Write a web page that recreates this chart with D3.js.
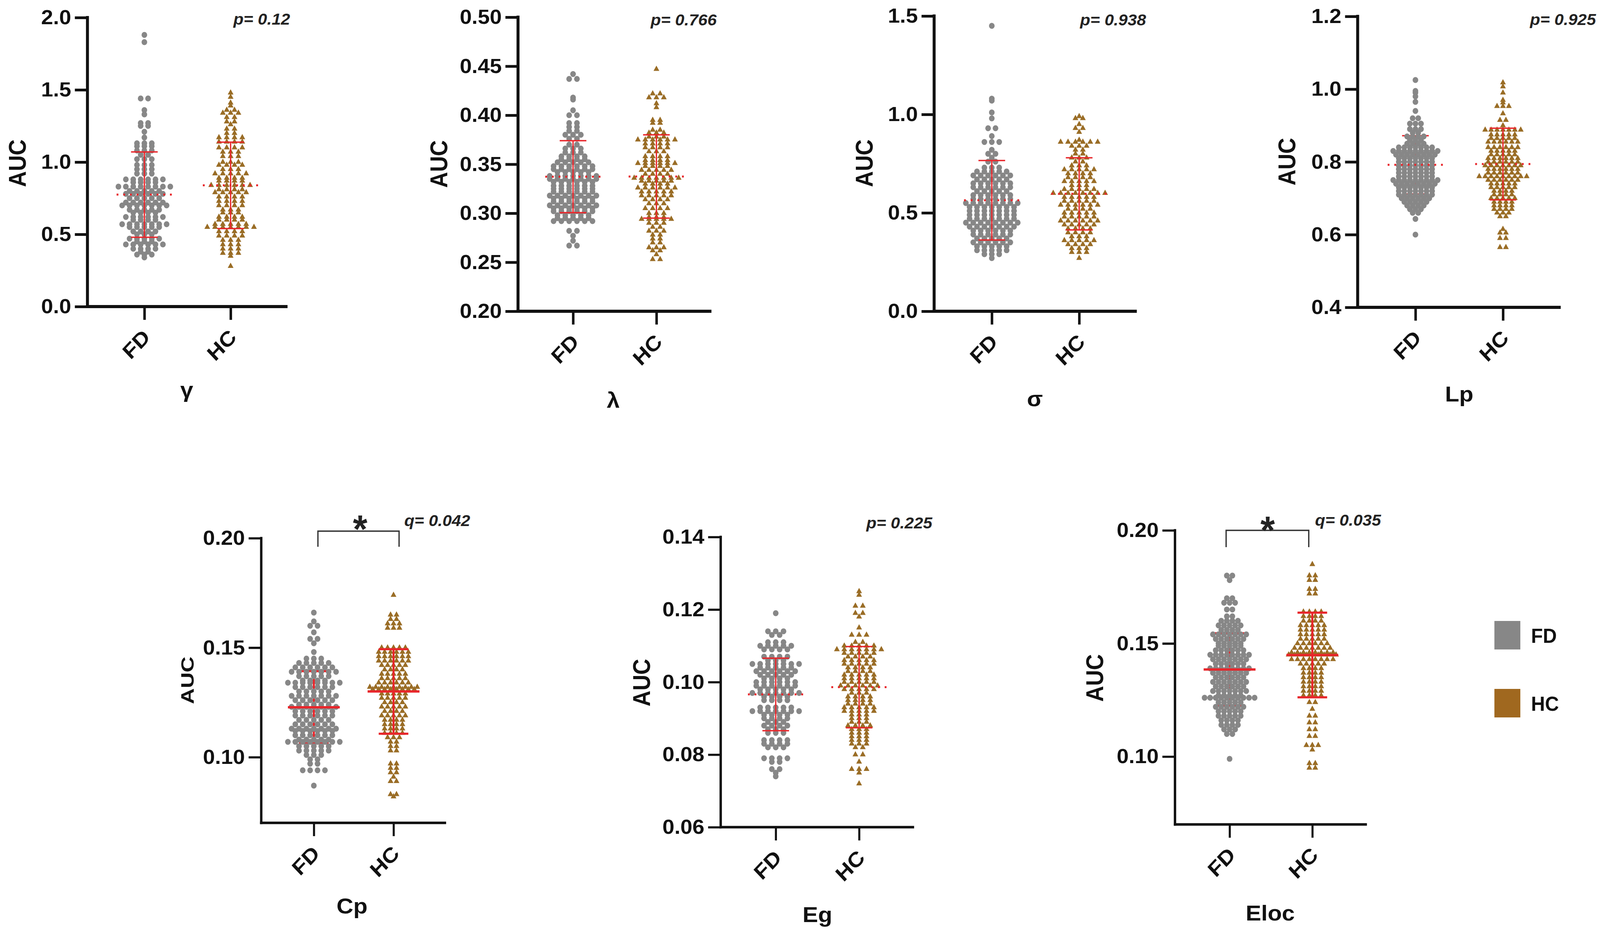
<!DOCTYPE html>
<html><head><meta charset="utf-8">
<script src="https://cdn.jsdelivr.net/npm/d3@7"></script>
<style>html,body{margin:0;padding:0;background:#fff;width:100%;height:100%;overflow:hidden;}svg{display:block;width:100vw;height:100vh;}text{font-family:"Liberation Sans",Arial,Helvetica,sans-serif;}</style>
</head><body><svg id="c" viewBox="0 0 4318 2389" preserveAspectRatio="none"></svg>
<script>
// ---------------- DATA ----------------
const groups = ["FD", "HC"];
const panelNames = ["γ", "λ", "σ", "Lp", "Cp", "Eg", "Eloc"];
const statLabels = ["p= 0.12", "p= 0.766", "p= 0.938", "p= 0.925", "q= 0.042", "p= 0.225", "q= 0.035"];
const significant = [false, false, false, false, true, false, true];
const yDomains = [[0, 2], [0.2, 0.5], [0, 1.5], [0.4, 1.2], [0.07, 0.2], [0.06, 0.14], [0.07, 0.2]];
const yTicks = [[0, 0.5, 1.0, 1.5, 2.0], [0.20, 0.25, 0.30, 0.35, 0.40, 0.45, 0.50], [0, 0.5, 1.0, 1.5], [0.4, 0.6, 0.8, 1.0, 1.2], [0.10, 0.15, 0.20], [0.06, 0.08, 0.10, 0.12, 0.14], [0.10, 0.15, 0.20]];
const tickFormats = [".1f", ".2f", ".1f", ".1f", ".2f", ".2f", ".2f"];

const meanFD = [0.775, 0.3373, 0.564, 0.792, 0.1228, 0.0966, 0.1385];
const sdFD   = [0.2955, 0.0367, 0.202, 0.080, 0.0165, 0.0100, 0.0160];
const meanHC = [0.839, 0.3375, 0.5965, 0.794, 0.1300, 0.0986, 0.1449];
const sdHC   = [0.299, 0.0425, 0.1835, 0.0985, 0.0193, 0.0112, 0.0187];

const gammaFD = [1.88,1.83,1.44,1.44,1.36,1.33,1.27,1.27,1.25,1.25,1.21,1.17,1.13,1.13,1.13,1.11,1.11,1.11,1.08,1.08,1.08,1.05,1.05,1.02,1.02,1.02,0.98,0.98,0.98,0.95,0.95,0.95,0.92,0.92,0.92,
0.88,0.88,0.88,0.88,0.88,0.88,0.86,0.86,0.86,0.86,0.83,0.83,0.83,0.83,0.83,0.83,0.83,0.83,0.80,0.80,0.80,0.80,0.80,
0.78,0.78,0.78,0.78,0.78,0.78,0.75,0.75,0.75,0.75,0.75,0.72,0.72,0.72,0.72,0.72,0.72,0.70,0.70,0.70,0.70,0.70,0.70,0.70,
0.67,0.67,0.67,0.67,0.67,0.65,0.65,0.65,0.65,0.62,0.62,0.62,0.62,0.62,0.62,0.60,0.60,0.60,0.60,
0.57,0.57,0.57,0.57,0.57,0.57,0.57,0.55,0.55,0.55,0.55,0.55,0.52,0.52,0.52,0.52,0.50,0.50,0.50,
0.47,0.47,0.47,0.47,0.47,0.45,0.45,0.45,0.43,0.43,0.43,0.43,0.43,0.43,0.40,0.40,0.40,0.40,0.38,0.38,0.36,0.36,0.36,0.34];
const gammaHC = [1.48,1.45,1.41,1.39,1.36,1.36,1.34,1.34,1.34,1.31,1.31,1.28,1.28,1.26,1.23,1.23,1.20,1.20,
1.17,1.17,1.17,1.17,1.14,1.14,1.14,1.14,1.10,1.10,1.10,1.10,1.07,1.07,1.07,1.04,1.04,1.04,1.00,1.00,1.00,
0.98,0.98,0.98,0.98,0.95,0.95,0.95,0.92,0.92,0.92,0.92,0.92,0.89,0.89,0.89,0.89,0.87,0.87,0.87,0.87,
0.84,0.84,0.84,0.84,0.84,0.84,0.81,0.81,0.81,0.81,0.79,0.79,0.79,0.79,0.79,0.76,0.76,0.76,0.76,
0.73,0.73,0.73,0.73,0.70,0.70,0.70,0.70,0.67,0.67,0.67,0.65,0.65,0.65,0.62,0.62,0.62,0.62,0.60,0.60,0.60,0.60,
0.57,0.57,0.57,0.57,0.57,0.55,0.55,0.55,0.55,0.55,0.55,0.55,0.52,0.52,0.52,0.52,0.49,0.49,0.49,0.49,
0.46,0.46,0.46,0.43,0.43,0.43,0.40,0.40,0.40,0.37,0.37,0.37,0.35,0.28];

const lambdaFD = [0.442,0.437,0.437,0.418,0.416,0.405,0.400,0.400,0.392,0.392,0.388,0.388,0.384,0.384,0.380,0.380,0.380,0.376,0.376,0.370,0.370,
0.366,0.366,0.366,0.362,0.362,0.362,0.358,0.358,0.358,0.358,0.355,0.355,0.355,0.355,0.352,0.352,0.352,0.352,0.352,
0.348,0.348,0.348,0.348,0.348,0.348,0.345,0.345,0.345,0.345,0.345,0.345,0.342,0.342,0.342,0.342,0.342,
0.338,0.338,0.338,0.338,0.338,0.338,0.338,0.335,0.335,0.335,0.335,0.335,0.335,0.335,0.332,0.332,0.332,0.332,0.332,0.332,
0.328,0.328,0.328,0.328,0.328,0.328,0.325,0.325,0.325,0.325,0.325,0.325,0.322,0.322,0.322,0.322,0.322,0.322,
0.318,0.318,0.318,0.318,0.318,0.318,0.318,0.315,0.315,0.315,0.315,0.315,0.315,0.312,0.312,0.312,0.312,0.312,0.312,
0.308,0.308,0.308,0.308,0.308,0.308,0.308,0.305,0.305,0.305,0.305,0.305,0.305,0.302,0.302,0.302,0.302,0.302,0.302,
0.298,0.298,0.298,0.298,0.298,0.295,0.295,0.295,0.295,0.295,0.292,0.292,0.292,0.292,0.292,0.292,
0.282,0.282,0.277,0.272,0.267,0.267];
const lambdaHC = [0.447,0.422,0.422,0.418,0.418,0.418,0.412,0.408,0.395,0.395,0.392,0.392,0.385,0.385,0.382,0.382,0.382,0.378,0.378,0.378,
0.375,0.375,0.375,0.375,0.375,0.375,0.371,0.371,0.371,0.371,0.367,0.367,0.367,0.367,0.363,0.363,0.363,
0.358,0.358,0.358,0.358,0.354,0.354,0.354,0.354,0.351,0.351,0.351,0.351,0.351,0.351,0.348,0.348,0.348,0.348,
0.344,0.344,0.344,0.344,0.344,0.340,0.340,0.340,0.340,0.336,0.336,0.336,0.336,0.336,0.336,0.336,
0.333,0.333,0.333,0.333,0.333,0.330,0.330,0.330,0.330,0.326,0.326,0.326,0.326,0.326,0.326,
0.322,0.322,0.322,0.322,0.322,0.318,0.318,0.318,0.318,0.318,0.314,0.314,0.314,0.314,0.310,0.310,0.310,
0.305,0.305,0.305,0.305,0.300,0.300,0.300,0.296,0.296,0.296,0.294,0.294,0.294,0.294,0.294,
0.290,0.290,0.290,0.286,0.286,0.282,0.282,0.282,0.278,0.278,0.274,0.274,0.270,0.270,
0.265,0.265,0.265,0.262,0.262,0.258,0.253,0.253];

const sigmaFD = [1.45,1.08,1.07,1.01,0.98,0.93,0.93,0.89,0.86,0.86,0.86,0.82,0.80,0.80,0.78,0.76,0.76,0.73,0.73,0.73,
0.71,0.71,0.71,0.71,0.71,0.69,0.69,0.69,0.69,0.69,0.69,0.67,0.67,0.67,0.67,0.67,0.65,0.65,0.65,0.65,0.65,0.65,
0.63,0.63,0.63,0.63,0.63,0.63,0.61,0.61,0.61,0.61,0.61,0.59,0.59,0.59,0.59,0.59,0.59,0.57,0.57,0.57,0.57,0.57,0.57,
0.55,0.55,0.55,0.55,0.55,0.55,0.55,0.55,0.53,0.53,0.53,0.53,0.53,0.53,0.53,0.51,0.51,0.51,0.51,0.51,0.51,0.51,
0.49,0.49,0.49,0.49,0.49,0.49,0.49,0.47,0.47,0.47,0.47,0.47,0.47,0.47,0.45,0.45,0.45,0.45,0.45,0.45,0.45,0.45,
0.43,0.43,0.43,0.43,0.43,0.43,0.43,0.41,0.41,0.41,0.41,0.41,0.41,0.39,0.39,0.39,0.39,0.39,0.39,
0.37,0.37,0.37,0.37,0.37,0.35,0.35,0.35,0.35,0.35,0.35,0.33,0.33,0.33,0.33,0.33,0.31,0.31,0.31,0.31,0.31,
0.29,0.29,0.29,0.27];
const sigmaHC = [0.99,0.98,0.98,0.95,0.93,0.93,0.91,0.87,0.86,0.86,0.86,0.86,0.86,0.86,0.84,0.84,0.84,0.82,0.82,0.80,0.80,
0.78,0.78,0.78,0.76,0.76,0.74,0.74,0.74,0.72,0.72,0.72,0.72,0.72,0.70,0.70,0.70,0.70,0.68,0.68,0.68,0.68,
0.66,0.66,0.66,0.66,0.66,0.64,0.64,0.64,0.62,0.62,0.62,0.62,0.62,0.60,0.60,0.60,0.60,0.60,0.60,0.60,0.60,
0.58,0.58,0.58,0.58,0.58,0.56,0.56,0.56,0.56,0.56,0.54,0.54,0.54,0.54,0.54,0.54,0.52,0.52,0.52,0.52,
0.50,0.50,0.50,0.50,0.50,0.48,0.48,0.48,0.48,0.48,0.46,0.46,0.46,0.46,0.46,0.46,0.44,0.44,0.44,0.44,0.44,
0.42,0.42,0.42,0.42,0.40,0.40,0.40,0.40,0.38,0.38,0.38,0.36,0.36,0.36,0.36,0.36,0.34,0.34,0.34,0.34,
0.32,0.32,0.32,0.30,0.30,0.30,0.27];

const lpFD = [1.025,0.995,0.99,0.98,0.965,0.94,0.92,0.92,0.905,0.905,0.905,0.89,0.89,0.89,0.88,0.88,0.87,0.87,0.87,0.87,
0.86,0.86,0.86,0.85,0.85,0.85,0.85,0.84,0.84,0.84,0.84,0.84,0.84,0.84,
0.83,0.83,0.83,0.83,0.83,0.83,0.83,0.83,0.83,0.82,0.82,0.82,0.82,0.82,0.82,0.82,0.82,
0.81,0.81,0.81,0.81,0.81,0.81,0.81,0.80,0.80,0.80,0.80,0.80,0.80,0.80,0.79,0.79,0.79,0.79,0.79,0.79,0.79,
0.78,0.78,0.78,0.78,0.78,0.78,0.78,0.77,0.77,0.77,0.77,0.77,0.77,0.77,0.76,0.76,0.76,0.76,0.76,0.76,0.76,
0.75,0.75,0.75,0.75,0.75,0.75,0.75,0.75,0.75,0.74,0.74,0.74,0.74,0.74,0.74,0.74,0.74,
0.73,0.73,0.73,0.73,0.73,0.73,0.73,0.72,0.72,0.72,0.72,0.72,0.72,0.72,0.71,0.71,0.71,0.71,0.71,0.71,0.71,
0.70,0.70,0.70,0.70,0.70,0.70,0.69,0.69,0.69,0.69,0.69,0.68,0.68,0.68,0.68,0.67,0.67,0.67,0.66,0.66,0.643,0.60];
const lpHC = [1.018,1.007,0.99,0.97,0.963,0.953,0.953,0.953,0.933,0.915,0.915,0.90,
0.888,0.888,0.888,0.888,0.888,0.888,0.888,0.875,0.875,0.875,0.875,0.875,0.865,0.865,0.865,0.865,0.865,
0.855,0.855,0.855,0.855,0.855,0.855,0.84,0.84,0.84,0.84,0.84,0.84,0.83,0.83,0.83,0.83,0.83,0.82,0.82,0.82,0.82,0.82,
0.81,0.81,0.81,0.81,0.81,0.81,0.80,0.80,0.80,0.80,0.80,0.80,0.79,0.79,0.79,0.79,0.79,0.79,0.79,
0.78,0.78,0.78,0.78,0.78,0.78,0.77,0.77,0.77,0.77,0.77,0.77,0.76,0.76,0.76,0.76,0.76,0.76,0.76,0.76,0.76,
0.75,0.75,0.75,0.75,0.75,0.75,0.74,0.74,0.74,0.74,0.74,0.73,0.73,0.73,0.73,0.73,0.72,0.72,0.72,0.72,
0.71,0.71,0.71,0.71,0.70,0.70,0.70,0.70,0.70,0.69,0.69,0.69,0.69,0.68,0.68,0.68,0.68,0.67,0.67,0.67,0.67,
0.66,0.66,0.66,0.65,0.65,0.615,0.605,0.605,0.59,0.59,0.565,0.565];

const cpFD = [0.166,0.162,0.160,0.160,0.157,0.154,0.154,0.152,0.148,0.145,0.145,0.145,
0.143,0.143,0.143,0.143,0.143,0.141,0.141,0.141,0.141,0.141,0.141,0.139,0.139,0.139,0.139,0.139,0.139,0.139,
0.137,0.137,0.137,0.137,0.137,0.135,0.135,0.135,0.135,0.134,0.134,0.134,0.134,0.134,0.134,0.134,0.134,
0.132,0.132,0.132,0.132,0.132,0.132,0.130,0.130,0.130,0.130,0.130,0.128,0.128,0.128,0.128,0.128,0.128,0.128,
0.126,0.126,0.126,0.126,0.126,0.126,0.124,0.124,0.124,0.124,0.124,0.123,0.123,0.123,0.123,0.123,0.123,0.123,
0.121,0.121,0.121,0.121,0.121,0.121,0.119,0.119,0.119,0.119,0.119,0.119,0.117,0.117,0.117,0.117,0.117,
0.115,0.115,0.115,0.115,0.115,0.115,0.113,0.113,0.113,0.113,0.113,0.113,0.113,0.112,0.112,0.112,0.112,0.112,0.112,
0.110,0.110,0.110,0.110,0.110,0.110,0.108,0.108,0.108,0.108,0.108,0.107,0.107,0.107,0.107,0.107,0.107,0.107,0.107,
0.105,0.105,0.105,0.105,0.105,0.103,0.103,0.103,0.103,0.103,0.101,0.101,0.101,0.099,0.099,0.097,0.097,
0.094,0.094,0.094,0.094,0.087];
const cpHC = [0.174,0.165,0.165,0.163,0.163,0.161,0.161,0.161,0.159,0.159,0.159,
0.150,0.150,0.150,0.150,0.150,0.148,0.148,0.148,0.148,0.148,0.148,0.146,0.146,0.146,0.146,0.146,0.146,
0.144,0.144,0.144,0.144,0.144,0.144,0.142,0.142,0.142,0.142,0.142,0.140,0.140,0.140,0.140,
0.138,0.138,0.138,0.138,0.138,0.136,0.136,0.136,0.136,0.136,0.134,0.134,0.134,0.134,0.134,0.134,
0.132,0.132,0.132,0.132,0.132,0.132,0.132,0.132,0.132,0.131,0.131,0.131,0.131,0.131,0.131,0.131,0.131,
0.129,0.129,0.129,0.129,0.129,0.127,0.127,0.127,0.127,0.127,0.125,0.125,0.125,0.125,
0.123,0.123,0.123,0.123,0.123,0.121,0.121,0.121,0.121,0.119,0.119,0.119,0.119,0.119,
0.117,0.117,0.117,0.117,0.115,0.115,0.115,0.115,0.113,0.113,0.113,0.113,0.111,0.111,0.111,0.111,
0.109,0.109,0.109,0.107,0.107,0.105,0.105,0.103,0.103,0.097,0.097,0.095,0.095,0.093,0.093,0.091,0.089,0.089,
0.083,0.083,0.082];

const egFD = [0.119,0.114,0.114,0.114,0.113,0.113,0.111,0.111,0.111,
0.110,0.110,0.110,0.110,0.110,0.109,0.109,0.109,0.109,0.107,0.107,0.107,0.107,0.106,0.106,0.106,
0.105,0.105,0.105,0.105,0.105,0.105,0.105,0.104,0.104,0.104,0.104,0.104,0.103,0.103,0.103,0.103,0.103,0.103,
0.102,0.102,0.102,0.102,0.102,0.101,0.101,0.101,0.101,0.100,0.100,0.100,0.100,0.100,0.100,
0.099,0.099,0.099,0.099,0.099,0.099,0.098,0.098,0.098,0.098,0.098,0.097,0.097,0.097,0.097,0.097,0.097,0.097,
0.096,0.096,0.096,0.096,0.095,0.095,0.095,0.095,0.093,0.093,0.093,0.093,0.093,
0.092,0.092,0.092,0.092,0.092,0.092,0.092,0.091,0.091,0.091,0.091,0.090,0.090,0.090,0.090,0.089,0.089,0.089,
0.088,0.088,0.088,0.088,0.087,0.087,0.087,0.086,0.086,0.086,0.084,0.084,0.084,0.084,0.083,0.083,0.083,0.083,
0.082,0.082,0.082,0.079,0.079,0.079,0.079,0.078,0.078,0.076,0.076,0.075,0.074];
const egHC = [0.125,0.124,0.121,0.121,0.119,0.119,0.118,0.115,0.113,0.113,0.113,0.111,0.111,
0.110,0.110,0.110,0.110,0.110,0.109,0.109,0.109,0.109,0.109,0.109,0.109,0.108,0.108,0.108,0.108,0.108,
0.107,0.107,0.107,0.107,0.106,0.106,0.106,0.106,0.106,0.105,0.105,0.105,0.105,0.105,0.104,0.104,0.104,0.104,
0.103,0.103,0.103,0.103,0.102,0.102,0.102,0.102,0.102,0.101,0.101,0.101,0.101,0.101,0.100,0.100,0.100,0.100,0.100,
0.099,0.099,0.099,0.099,0.099,0.099,0.098,0.098,0.098,0.098,0.098,0.097,0.097,0.097,0.096,0.096,0.096,0.096,
0.095,0.095,0.095,0.095,0.094,0.094,0.094,0.094,0.093,0.093,0.093,0.093,0.093,0.092,0.092,0.092,0.092,0.092,
0.091,0.091,0.091,0.090,0.090,0.090,0.089,0.089,0.089,0.088,0.088,0.088,0.088,0.087,0.087,0.087,
0.086,0.086,0.086,0.085,0.085,0.085,0.084,0.084,0.084,0.083,0.083,0.083,0.082,0.082,0.080,0.080,
0.078,0.076,0.076,0.076,0.075,0.072];

const elocFD = [0.180,0.180,0.178,0.170,0.170,0.168,0.168,0.168,0.165,0.165,0.162,0.162,
0.160,0.160,0.160,0.160,0.158,0.158,0.158,0.158,0.158,0.156,0.156,0.156,0.156,
0.154,0.154,0.154,0.154,0.154,0.154,0.154,0.152,0.152,0.152,0.152,0.152,0.152,0.150,0.150,0.150,0.150,0.150,
0.149,0.149,0.149,0.149,0.149,0.147,0.147,0.147,0.147,0.147,0.147,0.145,0.145,0.145,0.145,0.145,0.145,0.145,0.145,
0.143,0.143,0.143,0.143,0.143,0.143,0.143,0.141,0.141,0.141,0.141,0.141,0.141,
0.139,0.139,0.139,0.139,0.139,0.139,0.139,0.139,0.137,0.137,0.137,0.137,0.137,0.137,0.137,
0.135,0.135,0.135,0.135,0.135,0.135,0.133,0.133,0.133,0.133,0.133,0.133,0.133,0.131,0.131,0.131,0.131,0.131,0.131,
0.129,0.129,0.129,0.129,0.129,0.129,0.129,0.127,0.127,0.127,0.127,0.127,
0.126,0.126,0.126,0.126,0.126,0.126,0.126,0.126,0.126,0.126,0.124,0.124,0.124,0.124,0.124,
0.122,0.122,0.122,0.122,0.122,0.122,0.120,0.120,0.120,0.120,0.120,0.118,0.118,0.118,0.118,0.118,
0.116,0.116,0.116,0.116,0.114,0.114,0.114,0.114,0.112,0.112,0.112,0.110,0.110,0.099];
const elocHC = [0.185,0.180,0.180,0.178,0.178,0.174,0.174,0.172,0.172,
0.164,0.164,0.164,0.164,0.162,0.162,0.162,0.162,0.160,0.160,0.160,0.160,0.158,0.158,0.158,0.158,0.158,
0.156,0.156,0.156,0.156,0.156,0.154,0.154,0.154,0.154,0.154,0.152,0.152,0.152,0.152,0.152,
0.150,0.150,0.150,0.150,0.150,0.150,0.148,0.148,0.148,0.148,0.148,0.148,0.148,
0.146,0.146,0.146,0.146,0.146,0.146,0.146,0.146,0.145,0.145,0.145,0.145,0.145,0.145,0.145,0.145,0.145,
0.143,0.143,0.143,0.143,0.143,0.143,0.143,0.143,0.141,0.141,0.141,0.141,0.141,
0.139,0.139,0.139,0.139,0.137,0.137,0.137,0.137,0.135,0.135,0.135,0.135,0.133,0.133,0.133,0.133,
0.131,0.131,0.131,0.131,0.129,0.129,0.129,0.129,0.127,0.127,0.127,0.127,
0.124,0.124,0.121,0.118,0.118,0.115,0.115,0.112,0.112,0.109,0.109,0.105,0.105,0.105,0.103,0.097,0.097,0.095,0.095];

const fdValues = [gammaFD, lambdaFD, sigmaFD, lpFD, cpFD, egFD, elocFD];
const hcValues = [gammaHC, lambdaHC, sigmaHC, lpHC, cpHC, egHC, elocHC];

// ---------------- LAYOUT (pixel geometry) ----------------
const layout = [
  {ax: 236,  xe: 776,  yt: 45,   yb: 785,  aucX: 46,   aucY: 418,  lab: [504, 1017],  st: [783, 63]},
  {ax: 1398, xe: 1920, yt: 44,   yb: 797,  aucX: 1183, aucY: 420,  lab: [1655, 1044], st: [1934, 65]},
  {ax: 2521, xe: 3068, yt: 41,   yb: 797,  aucX: 2331, aucY: 418,  lab: [2793, 1040], st: [3093, 65]},
  {ax: 3664, xe: 4212, yt: 42,   yb: 787,  aucX: 3472, aucY: 414,  lab: [3938, 1028], st: [4307, 64]},
  {ax: 705,  xe: 1204, yt: 1378, yb: 2107, aucX: 506,  aucY: 1742, lab: [950, 2339],  st: [1269, 1347], br: [858, 1077, 1360, 1400], star: [972, 1389], aucFs: 48},
  {ax: 1945, xe: 2467, yt: 1375, yb: 2118, aucX: 1730, aucY: 1748, lab: [2206, 2361], st: [2516, 1353]},
  {ax: 3171, xe: 3689, yt: 1358, yb: 2111, aucX: 2953, aucY: 1736, lab: [3428, 2357], st: [3727, 1346], br: [3309, 3532, 1358, 1401], star: [3421, 1392]}
];
const fdSpacing = [20, 21, 20, 15, 20, 21, 15];
const hcSpacing = [21, 20, 20, 16, 16, 20, 16];
const fdSdUnder = [false, false, false, true, true, false, true];
const STRETCH = 1.12;

const COL_FD = "#878787", COL_HC = "#9a6d26", COL_HC_LEG = "#a0681f", RED = "#e8262b", INK = "#111";

const svg = d3.select("#c");
svg.append("rect").attr("width", 4318).attr("height", 2389).attr("fill", "#fff");

function rowLayout(vals, spacing) {
  const rows = d3.group(vals, v => v);
  const pts = [];
  rows.forEach((arr, v) => {
    const n = arr.length;
    arr.forEach((_, k) => pts.push({v: v, dx: (k - (n - 1) / 2) * spacing}));
  });
  return pts;
}

function drawBars(layer, cx, y, mean, sd, sig, parts) {
  const lw = sig ? 5.5 : 3.5;
  const capH = sig ? 40 : 36;
  const meanH = sig ? 70 : 75;
  if (parts.sd) {
    layer.append("line").attr("x1", cx).attr("x2", cx).attr("y1", y(mean - sd)).attr("y2", y(mean + sd))
      .attr("stroke", RED).attr("stroke-width", lw);
    [mean - sd, mean + sd].forEach(v => {
      layer.append("line").attr("x1", cx - capH).attr("x2", cx + capH).attr("y1", y(v)).attr("y2", y(v))
        .attr("stroke", RED).attr("stroke-width", lw);
    });
  }
  if (parts.mean) {
    const m = layer.append("line").attr("x1", cx - meanH).attr("x2", cx + meanH).attr("y1", y(mean)).attr("y2", y(mean))
      .attr("stroke", RED).attr("stroke-width", sig ? 6 : 5);
    if (!sig) m.attr("stroke-dasharray", "5 13");
  }
}

// text helper: wide bold text (horizontal stretch about its anchor)
function wideText(parent, x, y, str, fs, anchor, extra) {
  const t = parent.append("text").attr("transform", `translate(${x},${y}) ${extra || ""} scale(${STRETCH},1)`)
    .attr("text-anchor", anchor).attr("font-size", fs).attr("font-weight", "bold").attr("fill", INK).text(str);
  return t;
}

panelNames.forEach((name, i) => {
  const L = layout[i];
  const g = svg.append("g");
  const y = d3.scaleLinear().domain(yDomains[i]).range([L.yb, L.yt]);
  const x = d3.scalePoint().domain(groups).range([L.ax, L.xe]).padding(0.66);
  const lw = i >= 4 ? 6.5 : 8;

  const ya = g.append("g").attr("transform", `translate(${L.ax},0)`)
    .call(d3.axisLeft(y).tickValues(yTicks[i]).tickFormat(d3.format(tickFormats[i])).tickSize(34).tickSizeOuter(0).tickPadding(10));
  ya.select(".domain").remove();
  ya.selectAll(".tick line").attr("stroke", INK).attr("stroke-width", lw * 0.85);
  ya.selectAll(".tick text").attr("font-size", 52).attr("font-weight", "bold").attr("fill", INK)
    .attr("font-family", "'Liberation Sans', Arial, sans-serif")
    .attr("x", 0).attr("transform", `translate(-44,0) scale(${STRETCH},1)`);
  g.append("line").attr("x1", L.ax).attr("x2", L.ax).attr("y1", L.yt - lw / 2).attr("y2", L.yb + lw / 2)
    .attr("stroke", INK).attr("stroke-width", lw);

  const xa = g.append("g").attr("transform", `translate(0,${L.yb})`)
    .call(d3.axisBottom(x).tickSize(34).tickSizeOuter(0));
  xa.select(".domain").remove();
  xa.selectAll(".tick line").attr("stroke", INK).attr("stroke-width", lw * 0.85);
  xa.selectAll(".tick text").attr("font-size", 53).attr("font-weight", "bold").attr("fill", INK)
    .attr("font-family", "'Liberation Sans', Arial, sans-serif")
    .attr("text-anchor", "end").attr("x", 0).attr("y", 0).attr("dy", "0.36em")
    .attr("transform", `translate(5,68) rotate(-45) scale(${STRETCH},1)`);
  g.append("line").attr("x1", L.ax - lw / 2).attr("x2", L.xe).attr("y1", L.yb).attr("y2", L.yb)
    .attr("stroke", INK).attr("stroke-width", lw);

  const aucFs = L.aucFs || 66;
  g.append("text").attr("transform", `translate(${L.aucX},${L.aucY}) rotate(-90)`)
    .attr("text-anchor", "middle").attr("dy", "0.36em").attr("font-size", aucFs).attr("font-weight", "bold")
    .attr("fill", INK).attr("textLength", 122).attr("lengthAdjust", "spacingAndGlyphs").text("AUC");

  wideText(g, L.lab[0], L.lab[1], name, 56, "middle");

  g.append("text").attr("transform", `translate(${L.st[0]},${L.st[1]}) scale(${STRETCH},1)`).attr("text-anchor", "end")
    .attr("font-size", 40).attr("font-weight", "bold").attr("font-style", "italic").attr("fill", "#222").text(statLabels[i]);

  if (L.br) {
    const [x1, x2, yt, ybk] = L.br;
    g.append("path").attr("d", `M${x1},${ybk} V${yt} H${x2} V${ybk}`).attr("fill", "none")
      .attr("stroke", "#333").attr("stroke-width", 3.5);
    g.append("text").attr("x", L.star[0]).attr("y", L.star[1]).attr("text-anchor", "middle")
      .attr("font-size", 100).attr("font-weight", "bold").attr("fill", "#222").text("*");
  }

  const sig = significant[i];
  const cxF = x("FD");
  const under = g.append("g"), dots = g.append("g"), over = g.append("g");
  drawBars(fdSdUnder[i] ? under : over, cxF, y, meanFD[i], sdFD[i], sig, {sd: true, mean: false});
  drawBars(over, cxF, y, meanFD[i], sdFD[i], sig, {sd: false, mean: true});
  rowLayout(fdValues[i], fdSpacing[i]).forEach(p => {
    dots.append("circle").attr("cx", cxF + p.dx).attr("cy", y(p.v)).attr("r", 7.6).attr("fill", COL_FD);
  });
  const cxH = x("HC");
  const dotsH = g.append("g"), overH = g.append("g");
  const tri = d3.symbol().type(d3.symbolTriangle).size(105);
  rowLayout(hcValues[i], hcSpacing[i]).forEach(p => {
    dotsH.append("path").attr("d", tri()).attr("transform", `translate(${cxH + p.dx},${y(p.v)})`).attr("fill", COL_HC);
  });
  drawBars(overH, cxH, y, meanHC[i], sdHC[i], sig, {sd: true, mean: true});
});

const legendItems = [{k: "FD", c: COL_FD, y: 1590}, {k: "HC", c: COL_HC_LEG, y: 1764}];
const leg = svg.append("g");
legendItems.forEach(d => {
  leg.append("rect").attr("x", 4033).attr("y", d.y).attr("width", 70).attr("height", 73).attr("fill", d.c);
  leg.append("text").attr("x", 4132).attr("y", d.y + 56).attr("font-size", 52).attr("font-weight", "bold").attr("fill", INK).text(d.k);
});
</script></body></html>
